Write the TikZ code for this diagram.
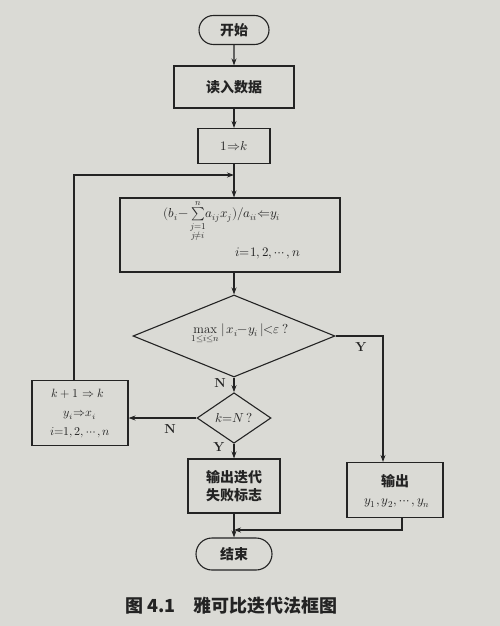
\documentclass[tikz,border=0pt]{standalone}
\usepackage{amsmath}
\usepackage{fontspec}
\usepackage{unicode-math}
\setmathfont{Latin Modern Math}
\newfontfamily\cjk{Noto Sans CJK SC}
\usetikzlibrary{shapes.geometric,shapes.misc,arrows.meta}
\definecolor{paper}{RGB}{218,218,213}
\definecolor{ink}{RGB}{35,35,35}
\begin{document}
\begin{tikzpicture}[x=1pt,y=-1pt,
  every node/.style={text=ink},
  ln/.style={draw=ink, line width=1.1pt},
  arr/.style={ln, -{Stealth[length=7pt,width=5pt]}},
  box/.style={ln, rectangle, inner sep=0pt, align=center},
  term/.style={ln, rounded rectangle, inner sep=0pt, align=center},
  dia/.style={ln, diamond, inner sep=0pt, align=center},
  zh/.style={font=\cjk\bfseries\fontsize{14}{16}\selectfont},
  mth/.style={font=\fontsize{13}{15}\selectfont, inner sep=1pt},
  mths/.style={font=\fontsize{12}{14}\selectfont, inner sep=1pt},
  lab/.style={font=\bfseries\fontsize{13}{15}\selectfont}
]
\fill[paper] (0,0) rectangle (500,626);
\useasboundingbox (0,0) rectangle (500,626);

% nodes
\node[term, zh, minimum width=70pt, minimum height=29pt] (start) at (234,30) {开始};
\node[box, zh, minimum width=120pt, minimum height=42pt] (read) at (234,87) {读入数据};
\node[box, mth, minimum width=72pt, minimum height=35pt] (onek) at (234,146) {$1{\Rightarrow}k$};
\node[box, minimum width=220pt, minimum height=74pt] (big) at (230,235) {};
\node[mth] (f1) at (222,221) {$(b_i{-}\sum\limits_{\substack{j=1\\ j\neq i}}^{n}\!a_{ij}x_j)/a_{ii}{\Leftarrow}y_i$};
\node[mth] (f2) at (268,253) {$i{=}1,2,\cdots,n$};
\node[dia, minimum width=202pt, minimum height=82pt] (dec1) at (234,336) {};
\node[mth] (f3) at (240,334) {$\max\limits_{1\le i\le n}|\,x_i{-}y_i\,|{<}\varepsilon\,?$};
\node[dia, mth, minimum width=74pt, minimum height=40pt] (dec2) at (234,418) {$k{=}N\,?$};
\node[box, minimum width=96pt, minimum height=65pt] (upd) at (80,413) {};
\node[mths] (u1) at (78,394) {$k+1\Rightarrow k$};
\node[mths] (u2) at (80,415) {$y_i{\Rightarrow}x_i$};
\node[mths] (u3) at (80,433) {$i{=}1,2,\cdots,n$};
\node[box, zh, minimum width=92pt, minimum height=54pt] (fail) at (234,486) {输出迭代\\[2pt]失败标志};
\node[box, minimum width=96pt, minimum height=55pt] (out) at (395,490) {};
\node[zh] (o1) at (395,481) {输出};
\node[mth] (o2) at (397,503) {$y_1,y_2,\cdots,y_n$};
\node[term, zh, minimum width=76pt, minimum height=32pt] (end) at (234,554) {结束};

% labels
\node[lab] (lN1) at (220,383) {N};
\node[lab] (lN2) at (170,429) {N};
\node[lab] (lY1) at (219,447) {Y};
\node[lab] (lY2) at (361,347) {Y};

% caption
\node[font=\cjk\bfseries\fontsize{18}{20}\selectfont, anchor=west] (cap) at (122,606) {图 4.1\quad 雅可比迭代法框图};

% connectors
\coordinate (loop) at (234,175);
\coordinate (join) at (234,530);
\draw[arr] (start) -- (read);
\draw[arr] (read) -- (onek);
\draw[arr] (onek.south) -- (onek.south |- big.north);
\draw[arr] (dec1.north |- big.south) -- (dec1.north);
\draw[arr] (dec1.south) -- (dec2.north);
\draw[arr] (dec2.west) -- (dec2.west -| upd.east);
\draw[arr] ([xshift=-6pt]upd.north) |- (loop);
\draw[arr] (dec2.south) -- (fail.north);
\draw[arr] (dec1.east) -| ([xshift=-12pt]out.north);
\draw[arr] ([xshift=7pt]out.south) |- (join);
\draw[arr] (fail.south) -- (end.north);
\end{tikzpicture}
\end{document}
